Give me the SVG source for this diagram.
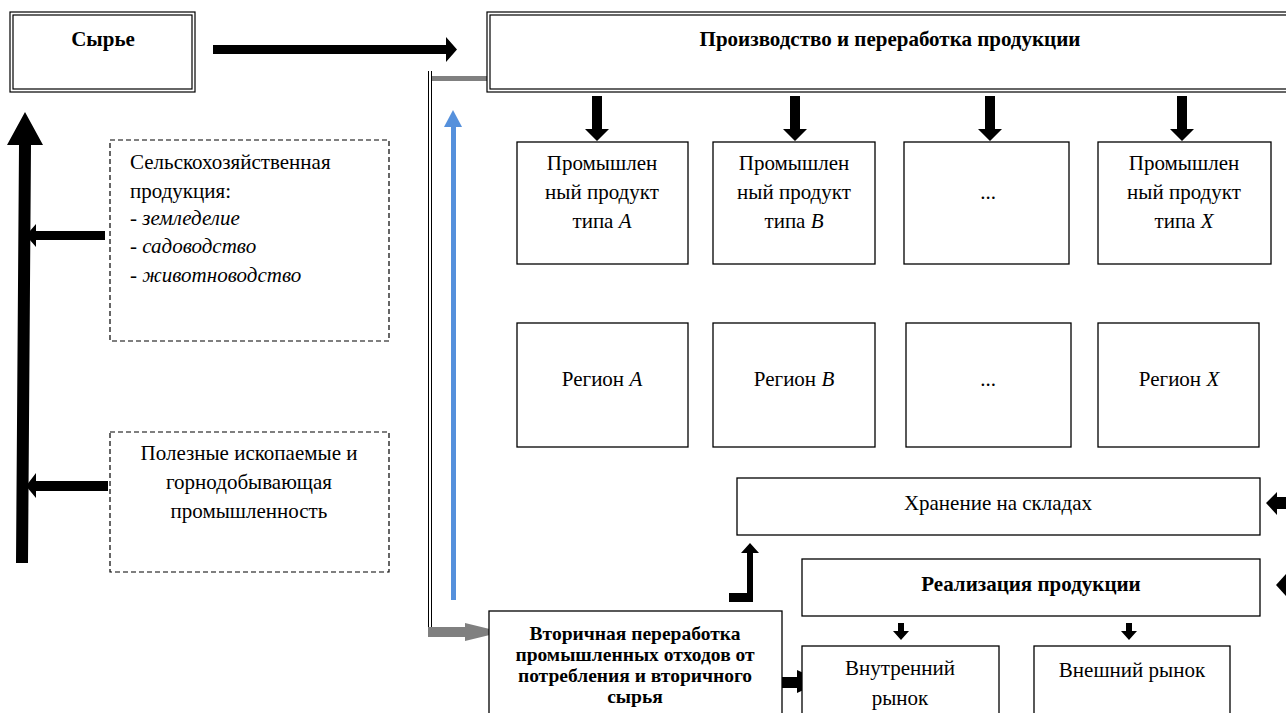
<svg xmlns="http://www.w3.org/2000/svg" width="1286" height="713" viewBox="0 0 1286 713">
<style>
.t{font-family:"Liberation Serif","Times New Roman","DejaVu Serif",serif;font-size:21px;fill:#000}
.b{font-weight:bold}
.s{font-size:19.5px}
.c{text-anchor:middle}
.i{font-style:italic}
.box{fill:#fff;stroke:#000;stroke-width:1.3}
.dbl{fill:none;stroke:#000;stroke-width:1.2}
.dash{fill:#fff;stroke:#000;stroke-width:1.2;stroke-dasharray:5 3}
.blk{fill:#000}
</style>
<rect width="1286" height="713" fill="#fff"/>
<g id="connectors">
  <polygon class="blk" points="213,45 446,45 446,37 457,49.5 446,62 446,54 213,54"/>
  <polygon class="blk" points="592,96 602,96 602,129 609,129 597,141 585,129 592,129"/>
  <polygon class="blk" points="790,96 800,96 800,129 807,129 795,141 783,129 790,129"/>
  <polygon class="blk" points="985,96 995,96 995,129 1002,129 990,141 978,129 985,129"/>
  <polygon class="blk" points="1177,96 1187,96 1187,129 1194,129 1182,141 1170,129 1177,129"/>
  <polygon class="blk" points="105,231 36,231 36,224 26,235.5 36,247 36,240 105,240"/>
  <polygon class="blk" points="108,481 36,481 36,473 26,486 36,498 36,491 108,491"/>
  <polygon class="blk" points="16,563 28,563 31,145 43,145 25,112 7,145 19,145"/>
  <rect x="451" y="126" width="5" height="474" fill="#5590DC"/>
  <polygon points="444,127 462,127 453,110" fill="#5590DC"/>
  <rect x="431" y="76" width="56" height="5" fill="#808080"/>
  <line x1="428.5" y1="71" x2="428.5" y2="628" stroke="#000" stroke-width="1"/>
  <line x1="431.5" y1="71" x2="431.5" y2="628" stroke="#000" stroke-width="1"/>
  <polygon points="428,627 465,627 465,623 502,632 465,641 465,637 428,637" fill="#808080"/>
  <polygon class="blk" points="1266,503 1277,492 1277,497 1290,497 1290,509 1277,509 1277,515"/>
  <polygon class="blk" points="1276,585 1287,573 1290,573 1290,597 1287,597"/>
  <polygon class="blk" points="729,593 747,593 747,553 741,553 750,543 759,553 753,553 753,602 729,602"/>
  <polygon class="blk" points="898,623 904,623 904,631 909,631 901,640 893,631 898,631"/>
  <polygon class="blk" points="1126,623 1132,623 1132,631 1137,631 1129,640 1121,631 1126,631"/>
  <polygon class="blk" points="780,677 797,677 797,670 822,681.5 797,693 797,688 780,688"/>
</g>
<g id="syrye">
  <rect x="10" y="12" width="185" height="80" fill="#fff" class="dbl"/>
  <rect x="13" y="15" width="179" height="74" class="dbl"/>
  <text class="t b c" x="103" y="46">Сырье</text>
</g>
<g id="production">
  <rect x="487" y="12" width="820" height="80" fill="#fff" class="dbl"/>
  <rect x="490" y="15" width="814" height="74" class="dbl"/>
  <text class="t b c" x="890" y="46">Производство и переработка продукции</text>
</g>
<g id="agri">
  <rect class="dash" x="110" y="140" width="279" height="201"/>
  <text class="t" x="130" y="169">Сельскохозяйственная</text>
  <text class="t" x="130" y="198">продукция:</text>
  <text class="t" x="130" y="225">- <tspan class="i">земледелие</tspan></text>
  <text class="t" x="130" y="253">- <tspan class="i">садоводство</tspan></text>
  <text class="t" x="130" y="282">- <tspan class="i">животноводство</tspan></text>
</g>
<g id="minerals">
  <rect class="dash" x="110" y="432" width="279" height="140"/>
  <text class="t c" x="249" y="460">Полезные ископаемые и</text>
  <text class="t c" x="249" y="489">горнодобывающая</text>
  <text class="t c" x="249" y="518">промышленность</text>
</g>
<g id="prodA">
  <rect class="box" x="517" y="142" width="171" height="122"/>
  <text class="t c" x="602" y="170">Промышлен</text>
  <text class="t c" x="602" y="199">ный продукт</text>
  <text class="t c" x="602" y="228">типа <tspan class="i">A</tspan></text>
</g>
<g id="prodB">
  <rect class="box" x="713" y="142" width="162" height="122"/>
  <text class="t c" x="794" y="170">Промышлен</text>
  <text class="t c" x="794" y="199">ный продукт</text>
  <text class="t c" x="794" y="228">типа <tspan class="i">B</tspan></text>
</g>
<g id="prodDots">
  <rect class="box" x="904" y="142" width="165" height="122"/>
  <text class="t c" x="988" y="199">...</text>
</g>
<g id="prodX">
  <rect class="box" x="1098" y="142" width="173" height="122"/>
  <text class="t c" x="1184" y="170">Промышлен</text>
  <text class="t c" x="1184" y="199">ный продукт</text>
  <text class="t c" x="1184" y="228">типа <tspan class="i">X</tspan></text>
</g>
<g id="regA">
  <rect class="box" x="517" y="323" width="171" height="124"/>
  <text class="t c" x="602" y="386">Регион <tspan class="i">A</tspan></text>
</g>
<g id="regB">
  <rect class="box" x="713" y="323" width="162" height="124"/>
  <text class="t c" x="794" y="386">Регион <tspan class="i">B</tspan></text>
</g>
<g id="regDots">
  <rect class="box" x="906" y="323" width="165" height="124"/>
  <text class="t c" x="988" y="386">...</text>
</g>
<g id="regX">
  <rect class="box" x="1098" y="323" width="161" height="124"/>
  <text class="t c" x="1179" y="386">Регион <tspan class="i">X</tspan></text>
</g>
<g id="storage">
  <rect class="box" x="737" y="478" width="523" height="57"/>
  <text class="t c" x="998" y="510">Хранение на складах</text>
</g>
<g id="sales">
  <rect class="box" x="802" y="559" width="458" height="57"/>
  <text class="t b c" x="1031" y="591">Реализация продукции</text>
</g>
<g id="secondary">
  <rect class="box" x="489" y="611" width="293" height="110"/>
  <text class="t b c s" x="635" y="640">Вторичная переработка</text>
  <text class="t b c s" x="635" y="661">промышленных отходов от</text>
  <text class="t b c s" x="635" y="682">потребления и вторичного</text>
  <text class="t b c s" x="635" y="703">сырья</text>
</g>
<g id="domestic">
  <rect class="box" x="802" y="646" width="197" height="75"/>
  <text class="t c" x="900" y="675">Внутренний</text>
  <text class="t c" x="900" y="705">рынок</text>
</g>
<g id="foreign">
  <rect class="box" x="1034" y="646" width="196" height="75"/>
  <text class="t c" x="1132" y="677">Внешний рынок</text>
</g>
</svg>
